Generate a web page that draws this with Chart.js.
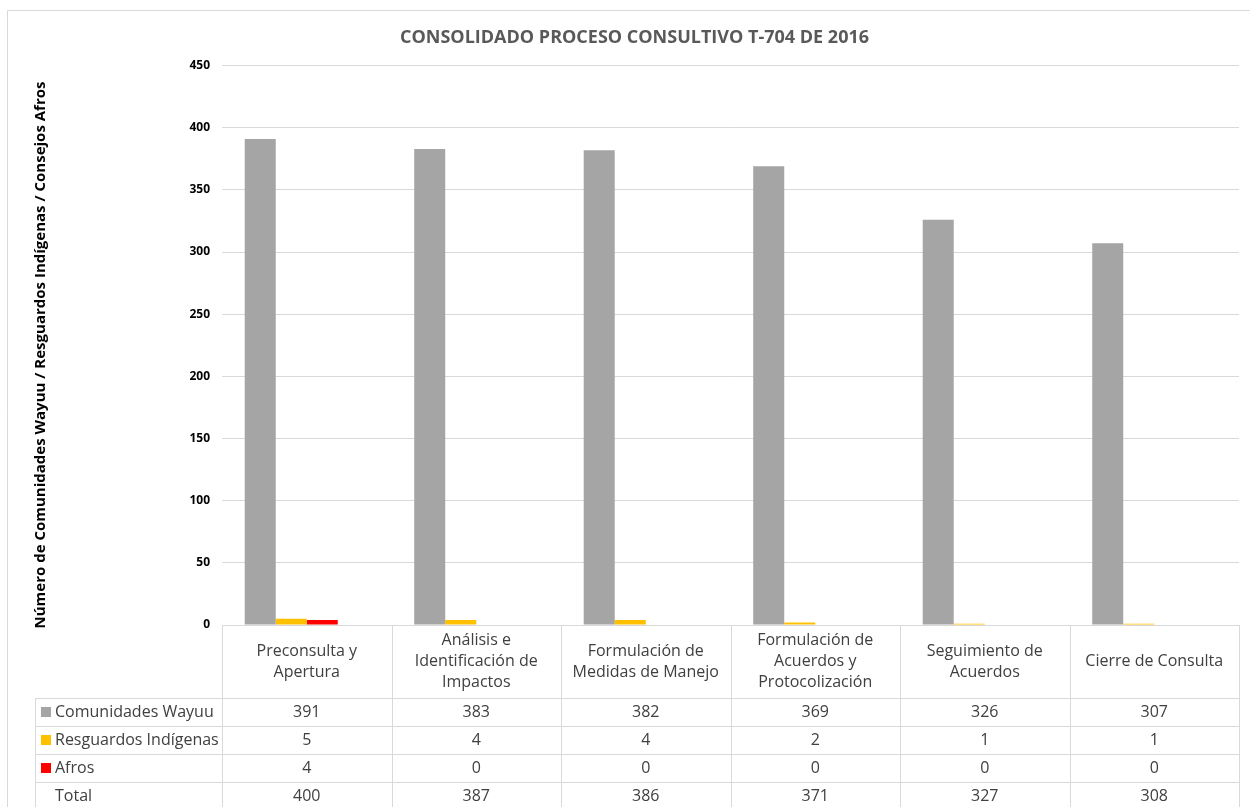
<!DOCTYPE html>
<html>
<head>
<meta charset="utf-8">
<script src="https://cdn.jsdelivr.net/npm/chart.js@4"></script>
<style>
  body { margin: 0; background: #ffffff; }
  #wrap { width: 1250px; height: 807px; }
</style>
</head>
<body>
<div id="wrap"><canvas id="myChart" width="1250" height="807"></canvas></div>
<script>
const categories = [
    ['Preconsulta y', 'Apertura'],
    ['Análisis e', 'Identificación de', 'Impactos'],
    ['Formulación de', 'Medidas de Manejo'],
    ['Formulación de', 'Acuerdos y', 'Protocolización'],
    ['Seguimiento de', 'Acuerdos'],
    ['Cierre de Consulta']
];
const seriesNames = ['Comunidades Wayuu', 'Resguardos Indígenas', 'Afros', 'Total'];
const wayuu = [391, 383, 382, 369, 326, 307];
const resguardos = [5, 4, 4, 2, 1, 1];
const afros = [4, 0, 0, 0, 0, 0];
const totals = [400, 387, 386, 371, 327, 308];
const seriesColors = ['#a5a5a5', '#ffc000', '#ff0000', 'rgba(0,0,0,0)'];
const yTitle = 'Número de Comunidades Wayuu / Resguardos Indígenas / Consejos Afros';

const FONT = "'Open Sans', sans-serif";
const GRID = '#d9d9d9';

// excel style data table under the plot + outer frame + y title
const dataTable = {
    id: 'dataTable',
    beforeDraw(chart) {
        const ctx = chart.ctx;
        ctx.save();
        ctx.strokeStyle = GRID;
        ctx.lineWidth = 1;
        ctx.beginPath();
        ctx.moveTo(7.5, chart.height);
        ctx.lineTo(7.5, 10.5);
        ctx.lineTo(chart.width, 10.5);
        ctx.stroke();
        ctx.restore();
    },
    afterDraw(chart) {
        const ctx = chart.ctx;
        const ca = chart.chartArea;
        const xs = chart.scales.x;
        const n = categories.length;
        const colW = (ca.right - ca.left) / n;
        const headTop = ca.bottom;
        const headBottom = headTop + 73;
        const rowH = 28;
        const legLeft = 35;
        const rows = [wayuu, resguardos, afros, totals];

        ctx.save();
        // y axis title
        ctx.translate(41, 355);
        ctx.rotate(-Math.PI / 2);
        ctx.fillStyle = '#000000';
        ctx.font = 'bold 15px ' + FONT;
        ctx.textAlign = 'center';
        ctx.textBaseline = 'middle';
        ctx.fillText(yTitle, 0, 0);
        ctx.restore();

        ctx.save();
        ctx.strokeStyle = GRID;
        ctx.lineWidth = 1;
        ctx.beginPath();
        ctx.moveTo(ca.left, Math.round(headTop) + 0.5);
        ctx.lineTo(ca.right, Math.round(headTop) + 0.5);
        for (let r = 0; r < rows.length; r++) {
            const y = Math.round(headBottom + r * rowH) + 0.5;
            ctx.moveTo(legLeft, y);
            ctx.lineTo(ca.right, y);
        }
        for (let i = 0; i <= n; i++) {
            const x = Math.round(ca.left + i * colW) + 0.5;
            ctx.moveTo(x, headTop);
            ctx.lineTo(x, chart.height);
        }
        ctx.moveTo(legLeft + 0.5, headBottom);
        ctx.lineTo(legLeft + 0.5, chart.height);
        ctx.stroke();

        ctx.fillStyle = '#404040';
        ctx.font = '16px ' + FONT;
        ctx.textAlign = 'center';
        ctx.textBaseline = 'middle';
        const midHead = (headTop + headBottom) / 2;
        categories.forEach((lines, i) => {
            const cx = xs.getPixelForValue(i);
            const y0 = midHead - (lines.length - 1) * 21 / 2;
            lines.forEach((t, k) => ctx.fillText(t, cx, y0 + k * 21));
        });

        rows.forEach((vals, r) => {
            const cy = headBottom + r * rowH + rowH / 2;
            ctx.textAlign = 'left';
            ctx.fillStyle = seriesColors[r];
            ctx.fillRect(41, cy - 5, 10, 10);
            ctx.fillStyle = '#404040';
            ctx.fillText(seriesNames[r], 55, cy);
            ctx.textAlign = 'center';
            vals.forEach((v, i) => ctx.fillText(String(v), xs.getPixelForValue(i), cy));
        });
        ctx.restore();
    }
};

const ctx = document.getElementById('myChart').getContext('2d');

const myChart = new Chart(ctx, {
    type: 'bar',
    plugins: [dataTable],
    data: {
        labels: categories,
        datasets: [wayuu, resguardos, afros, totals].map((d, i) => ({
            label: seriesNames[i],
            data: d,
            backgroundColor: seriesColors[i],
            borderWidth: 0,
            barPercentage: 1,
            categoryPercentage: 0.732,
        })),
    },
    options: {
        responsive: false,
        animation: false,
        devicePixelRatio: 1,
        layout: {
            padding: { left: 30, right: 11, top: 0, bottom: 182 }
        },
        plugins: {
            legend: { display: false },
            tooltip: { enabled: false },
            title: {
                display: true,
                text: 'CONSOLIDADO PROCESO CONSULTIVO T-704 DE 2016',
                color: '#595959',
                font: { family: FONT, size: 18, weight: 'bold' },
                padding: { top: 27, bottom: 17 },
            },
        },
        scales: {
            x: {
                display: false,
            },
            y: {
                min: 0,
                max: 450,
                ticks: {
                    stepSize: 50,
                    color: '#000000',
                    padding: 12,
                    font: { family: FONT, size: 12, weight: 'bold' },
                },
                grid: { color: GRID, drawTicks: false },
                border: { display: false },
                afterFit(scale) {
                    scale.width = 192;
                },
            },
        },
    },
});
</script>
</body>
</html>
